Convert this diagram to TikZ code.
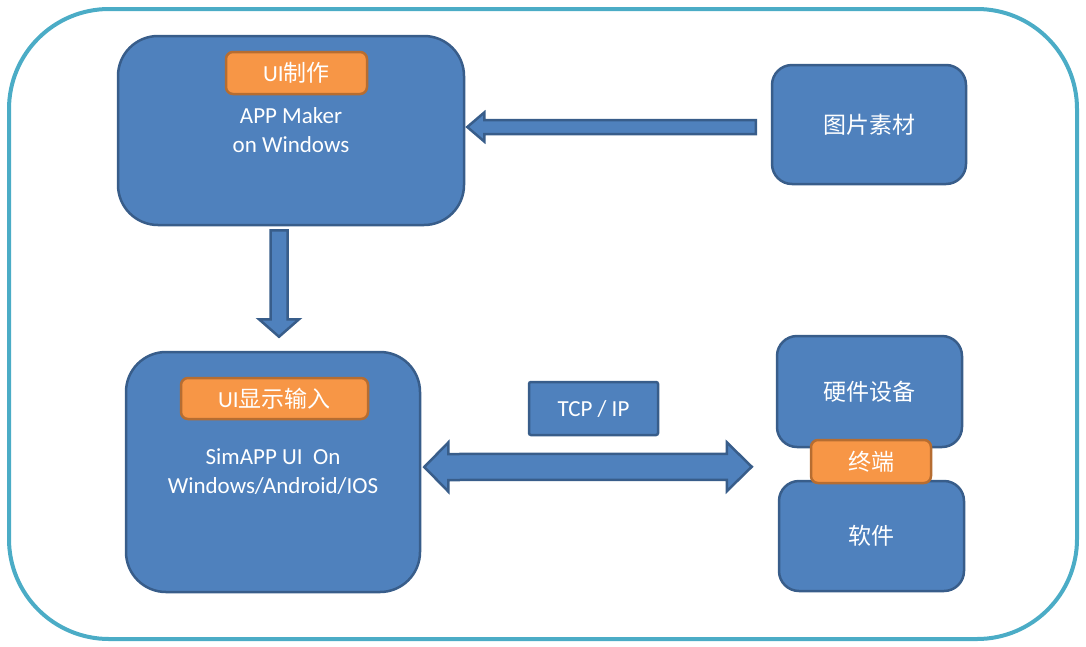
\documentclass[tikz,border=0pt]{standalone}
\usepackage{fontspec}
\setmainfont{Carlito}
\newfontfamily\cjk{Noto Sans CJK SC}
\usetikzlibrary{calc}
\definecolor{boxfill}{HTML}{4F81BD}
\definecolor{boxline}{HTML}{385D8A}
\definecolor{orfill}{HTML}{F79646}
\definecolor{orline}{HTML}{B66D31}
\definecolor{framecol}{HTML}{4BACC6}
\begin{document}
\begin{tikzpicture}[x=1pt,y=-1pt,
  bluebox/.style={draw=boxline, fill=boxfill, line width=2.5pt, text=white,
    font=\fontsize{23}{29}\selectfont, align=center, inner sep=0pt},
  tagbox/.style={draw=orline, fill=orfill, line width=2.5pt, text=white,
    rounded corners=7pt, font=\fontsize{23}{26}\selectfont, inner sep=0pt},
  blockarrow/.style={draw=boxline, fill=boxfill, line width=2.5pt, line join=miter}]
\useasboundingbox (0,0) rectangle (1086,646);
\draw[framecol, line width=4pt, rounded corners=100pt] (9,9) rectangle (1077,639);

% boxes
\node[bluebox, rounded corners=40pt, minimum width=346pt, minimum height=189pt] (maker) at (291,130.5) {APP Maker\\on Windows};
\node[bluebox, rounded corners=20pt, minimum width=194pt, minimum height=119pt] (img) at (869,124.5) {\cjk 图片素材};
\node[bluebox, rounded corners=40pt, minimum width=294pt, minimum height=240pt] (sim) at (273,472) {SimAPP UI\ \ On\\Windows/Android/IOS};
\node[bluebox, rounded corners=2pt, minimum width=129pt, minimum height=53pt] (tcp) at (593.5,408.5) {TCP / IP};
\node[bluebox, rounded corners=20pt, minimum width=185pt, minimum height=111pt] (hw) at (869.5,391.5) {\cjk 硬件设备};
\node[bluebox, rounded corners=20pt, minimum width=185pt, minimum height=110pt] (sw) at (871.5,536) {\cjk 软件};

% tags
\node[tagbox, minimum width=141pt, minimum height=42pt] (tag1) at (296.5,73) {UI{\cjk 制作}};
\node[tagbox, minimum width=187pt, minimum height=41pt] (tag2) at (274.5,398.5) {UI{\cjk 显示输入}};
\node[tagbox, minimum width=120pt, minimum height=43pt] (tag3) at (871,461.5) {\cjk 终端};

% arrow from image material to maker
\coordinate (l0) at ($(maker.east)+(2,-3.5)$);
\coordinate (l1) at ($(img.west)+(-15,0)$);
\draw[blockarrow] (l0) -- ++(17,-14.5) -- ++(0,7.5) -- ($(l1)+(0,-4.5)$) -- ($(l1)+(0,9.5)$) -- ($(l0)+(17,7)$) -- ++(0,7.5) -- cycle;

% arrow from maker down to sim
\coordinate (d0) at ($(maker.south)+(-12,4)$);
\coordinate (d1) at ($(sim.north)+(6,-14)$);
\draw[blockarrow] (d0) ++(-8.5,0) -- ++(17,0) -- ++(0,89) -- ++(11.5,0) -- (d1 -| d0) -- ($(d0)+(-20,89)$) -- ++(11.5,0) -- cycle;

% double arrow
\coordinate (t0) at ($(sim.east)+(3,-5)$);
\coordinate (t1) at ($(hw.west)!0.5!(sw.west)+(-25,3)$);
\draw[blockarrow] (t0) -- ++(24,-24.5) -- ++(0,11.5) -- ($(t1)+(-25,-13)$) -- ++(0,-11.5) -- (t1) -- ++(-25,24.5) -- ++(0,-11.5) -- ($(t0)+(24,13)$) -- ++(0,11.5) -- cycle;
\end{tikzpicture}
\end{document}
